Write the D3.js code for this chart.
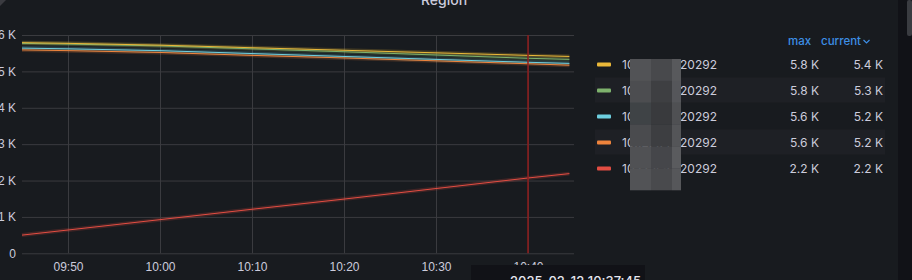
<!DOCTYPE html>
<html>
<head>
<meta charset="utf-8">
<script src="https://cdn.jsdelivr.net/npm/d3@7"></script>
<style>
  body { margin: 0; background: #111217; }
  svg { display: block; font-family: Inter, "Noto Sans", sans-serif; }
</style>
</head>
<body>
<div id="chart"></div>
<script>
// sample times (2025-02-12)
const times = ["09:45:00", "09:50:00", "10:00:00", "10:10:00", "10:20:00", "10:30:00", "10:40:00", "10:44:30"]
// series, in legend order
const seriesNames = ["10.12.4.1:20292", "10.12.4.2:20292", "10.12.4.3:20292", "10.12.4.4:20292", "10.12.4.5:20292"]
const seriesColors = ["#EAB839", "#7EB26D", "#6ED0E0", "#EF843C", "#E24D42"]
const yellowValues = [5790, 5770, 5720, 5650, 5580, 5510, 5440, 5410]
const greenValues  = [5770, 5750, 5700, 5620, 5540, 5450, 5360, 5330]
const cyanValues   = [5640, 5620, 5570, 5490, 5410, 5330, 5250, 5220]
const orangeValues = [5590, 5570, 5520, 5440, 5370, 5290, 5210, 5170]
const redValues    = [500, 640, 925, 1210, 1490, 1780, 2070, 2190]
const yTicks = [0, 1000, 2000, 3000, 4000, 5000, 6000]
const crosshairTime = "10:40:00"
const tooltipText = "2025-02-12 10:37:45"

const width = 912
const height = 280
const parseTime = d3.timeParse("%Y-%m-%d %H:%M:%S")
const t = s => parseTime("2025-02-12 " + s)

const allValues = [yellowValues, greenValues, cyanValues, orangeValues, redValues]
const series = seriesNames.map((name, i) => ({
    name: name,
    color: seriesColors[i],
    points: times.map((tm, j) => ({time: t(tm), value: allValues[i][j]}))
}))

const xScale = d3.scaleTime()
    .domain([t("09:45:00"), t("10:45:00")])
    .range([22, 574])
const yScale = d3.scaleLinear()
    .domain([0, 6000])
    .range([253.3, 35])

const svg = d3.select("#chart").append("svg")
    .attr("width", width)
    .attr("height", height)

// panel background
svg.append("rect").attr("width", 898).attr("height", height).attr("fill", "#181b1f")
svg.append("path").attr("d", "M0,0 L6,0 L0,6 Z").attr("fill", "#3a3b40")
// scrollbar
svg.append("rect").attr("x", 907).attr("y", 0).attr("width", 5).attr("height", 36).attr("rx", 2).attr("fill", "#3a3c41")

// title
svg.append("text")
    .attr("x", 444).attr("y", 5)
    .attr("text-anchor", "middle")
    .attr("font-size", 14).attr("font-weight", 500)
    .attr("fill", "#ccccdc")
    .text("Region")

// grid
const yAxis = d3.axisLeft(yScale)
    .tickValues(yTicks)
    .tickSize(-(574 - 22))
    .tickPadding(6)
    .tickFormat(d => d === 0 ? "0" : (d / 1000) + " K")
const gy = svg.append("g").attr("transform", "translate(22,0)").call(yAxis)
gy.select(".domain").remove()
gy.selectAll("line").attr("stroke", "#3a3b3f")
gy.selectAll("text").attr("fill", "#ccccdc").attr("font-size", 12).attr("x", -6)

const xAxis = d3.axisBottom(xScale)
    .ticks(d3.timeMinute.every(10))
    .tickSize(-(253.3 - 35))
    .tickPadding(9)
    .tickFormat(d3.timeFormat("%H:%M"))
const gx = svg.append("g").attr("transform", "translate(0,253.3)").call(xAxis)
gx.select(".domain").remove()
gx.selectAll("line").attr("stroke", "#3a3b3f")
gx.selectAll("text").attr("fill", "#ccccdc").attr("font-size", 12)

// lines
const line = d3.line().x(d => xScale(d.time)).y(d => yScale(d.value))
const lines = svg.append("g")
series.slice().reverse().forEach(s => {
    lines.append("path").datum(s.points)
        .attr("d", line).attr("fill", "none")
        .attr("stroke", s.color).attr("stroke-opacity", 0.2).attr("stroke-width", 4)
})
series.slice().reverse().forEach(s => {
    lines.append("path").datum(s.points)
        .attr("d", line).attr("fill", "none")
        .attr("stroke", s.color).attr("stroke-width", 1)
})

// crosshair
svg.append("line")
    .attr("x1", xScale(t(crosshairTime))).attr("x2", xScale(t(crosshairTime)))
    .attr("y1", 35).attr("y2", 253.3)
    .attr("stroke", "#8e1c1c").attr("stroke-width", 1.5)

// tooltip at bottom (cut off)
svg.append("rect").attr("x", 471).attr("y", 265).attr("width", 174).attr("height", 30).attr("fill", "#111217")
svg.append("text")
    .attr("x", 510).attr("y", 285.5)
    .attr("font-size", 13).attr("font-weight", 500)
    .attr("fill", "#e6e6ef")
    .text(tooltipText)

// legend
const legend = svg.append("g")
const rowY = i => 64.5 + i * 26
legend.append("text").attr("x", 788).attr("y", 45)
    .attr("font-size", 11.5).attr("font-weight", 500).attr("fill", "#3d8fe6").text("max")
legend.append("text").attr("x", 821).attr("y", 45)
    .attr("font-size", 11.5).attr("font-weight", 500).attr("fill", "#3d8fe6").text("current")
legend.append("path").attr("d", "M863.5,40 L866.5,43 L869.5,40")
    .attr("fill", "none").attr("stroke", "#3d8fe6").attr("stroke-width", 1.2)

const fmt = v => (v / 1000).toFixed(1) + " K"
series.forEach((s, i) => {
    const y = rowY(i)
    if (i % 2 === 1) {
        legend.append("rect").attr("x", 595).attr("y", y - 13).attr("width", 290).attr("height", 25).attr("fill", "#1e2025")
    }
    legend.append("rect").attr("x", 597).attr("y", y - 2).attr("width", 14).attr("height", 4).attr("rx", 1).attr("fill", s.color)
    const parts = s.name.split(":")
    const lab = legend.append("text").attr("y", y + 4.5).attr("font-size", 12).attr("fill", "#ccccdc")
    lab.append("tspan").attr("x", 622).text(parts[0] + ":")
    lab.append("tspan").attr("x", 680).text(parts[1])
    legend.append("text").attr("x", 819).attr("y", y + 4.5).attr("text-anchor", "end")
        .attr("font-size", 12).attr("fill", "#ccccdc").text(fmt(d3.max(s.points, d => d.value)))
    legend.append("text").attr("x", 883).attr("y", y + 4.5).attr("text-anchor", "end")
        .attr("font-size", 12).attr("fill", "#ccccdc").text(fmt(s.points[s.points.length - 1].value))
})

// redaction mosaic over the labels
const mosaicShades = ["#525356", "#48494c", "#58595c",
                      "#4c4d50", "#3e3f42", "#55565a",
                      "#3f4346", "#393a3d", "#4f5053",
                      "#4a4b4e", "#3d3e41", "#545558",
                      "#505154", "#45464a", "#5a5b5e",
                      "#525356", "#494a4d", "#56575a"]
const mosaic = svg.append("g")
const colX = [630, 651, 672], colW = [21, 21, 9]
const rowH = (190 - 59) / 6
for (let r = 0; r < 6; r++) {
    for (let c = 0; c < 3; c++) {
        mosaic.append("rect")
            .attr("x", colX[c]).attr("y", 59 + r * rowH)
            .attr("width", colW[c]).attr("height", rowH + 0.3)
            .attr("fill", mosaicShades[r * 3 + c])
    }
}
</script>
</body>
</html>
